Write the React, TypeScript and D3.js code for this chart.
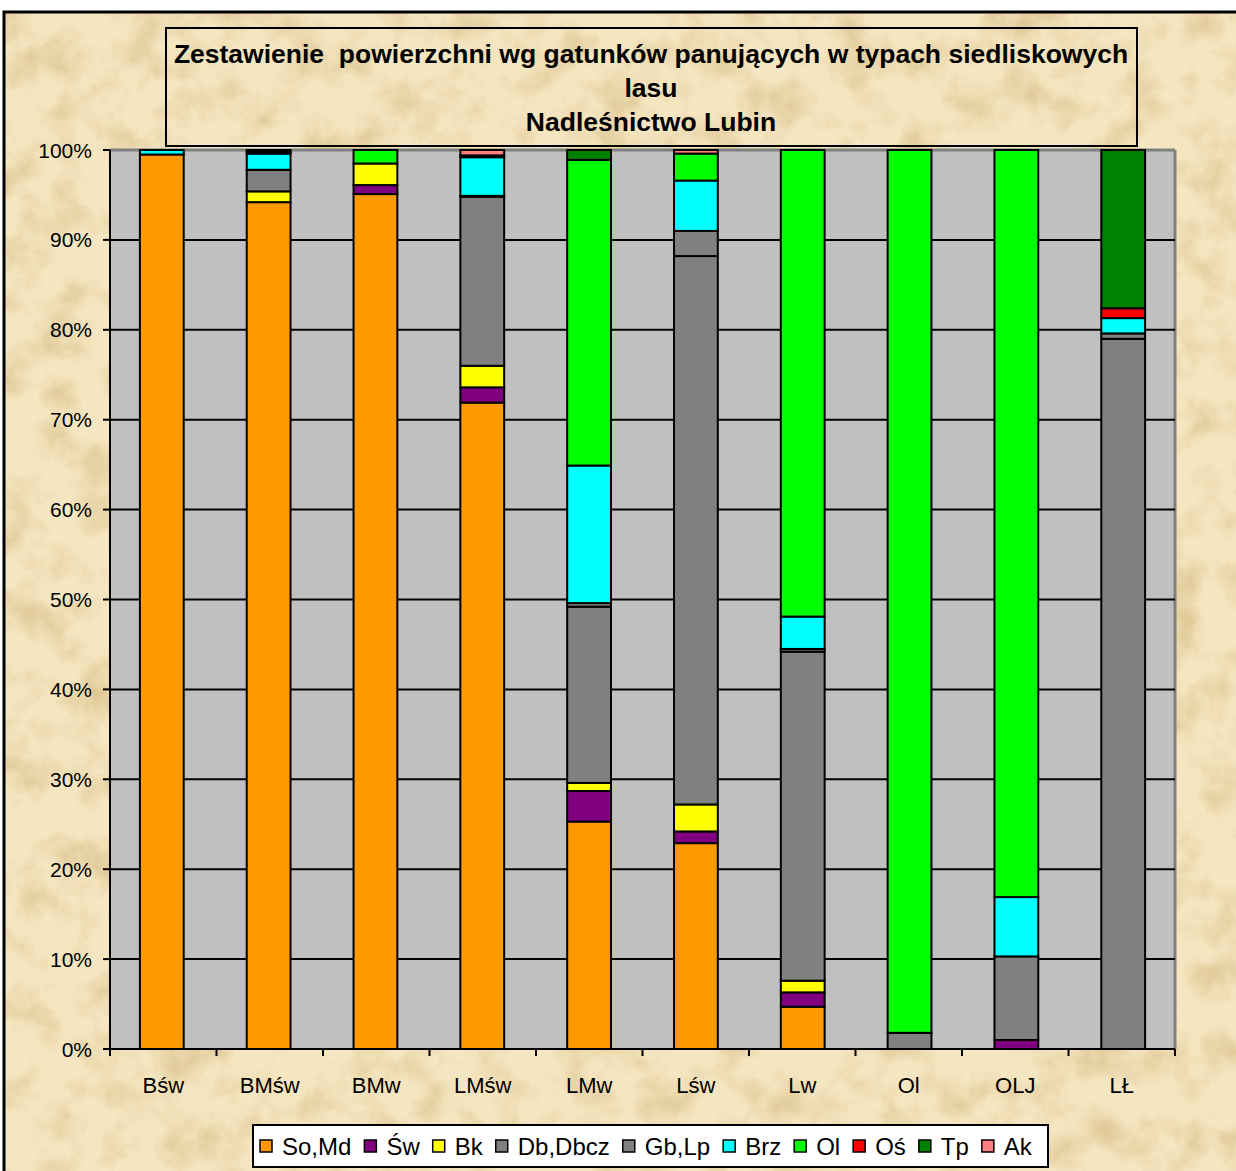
import React, { useEffect } from 'react';
import * as d3 from 'd3';

const categories = ['Bśw', 'BMśw', 'BMw', 'LMśw', 'LMw', 'Lśw', 'Lw', 'Ol', 'OLJ', 'LŁ'];
const seriesNames = ['So,Md', 'Św', 'Bk', 'Db,Dbcz', 'Gb,Lp', 'Brz', 'Ol', 'Oś', 'Tp', 'Ak'];
const seriesColors = ['#FF9900', '#800080', '#FFFF00', '#808080', '#808080', '#00FFFF', '#00FF00', '#FF0000', '#008000', '#FF8080'];

const soMd = [99.5, 94.2, 95.1, 71.9, 25.3, 22.9, 4.7, 0, 0, 0];
const sw = [0, 0, 1.0, 1.7, 3.4, 1.3, 1.6, 0, 1.0, 0];
const bk = [0, 1.2, 2.4, 2.4, 0.9, 3.0, 1.3, 0, 0, 0];
const dbDbcz = [0, 2.4, 0, 18.8, 19.6, 61.0, 36.6, 1.8, 9.3, 79.0];
const gbLp = [0, 0, 0, 0.1, 0.4, 2.8, 0.3, 0, 0, 0.6];
const brz = [0.5, 1.8, 0, 4.3, 15.3, 5.6, 3.6, 0, 6.6, 1.7];
const olSeries = [0, 0, 1.5, 0, 34.0, 3.0, 51.9, 98.2, 83.1, 0];
const os = [0, 0.2, 0, 0.2, 0, 0, 0, 0, 0, 1.1];
const tp = [0, 0, 0, 0, 1.1, 0, 0, 0, 0, 17.6];
const ak = [0, 0.2, 0, 0.6, 0, 0.4, 0, 0, 0, 0];

const seriesValues = [soMd, sw, bk, dbDbcz, gbLp, brz, olSeries, os, tp, ak];
const yTicks = [0, 10, 20, 30, 40, 50, 60, 70, 80, 90, 100];
const titleLines = ['Zestawienie  powierzchni wg gatunków panujących w typach siedliskowych', 'lasu', 'Nadleśnictwo Lubin'];

const W = 1236;
const H = 1171;
const plot = { left: 110, right: 1175, top: 150, bottom: 1049 };
const FONT = 'Arial, "Liberation Sans", sans-serif';

export default function App() {
  const legendRef = React.useRef<SVGGElement | null>(null);

  useEffect(() => {
    document.body.style.margin = '0';
    // lay out legend items sequentially using real rendered text widths
    const g = legendRef.current;
    if (!g) return;
    let lx = 260;
    d3.select(g)
      .selectAll<SVGGElement, unknown>('g.item')
      .each(function () {
        const grp = d3.select(this);
        const t = grp.select<SVGTextElement>('text');
        const w = (t.node() as SVGTextElement).getComputedTextLength();
        grp.select('rect').attr('x', lx);
        t.attr('x', lx + 22);
        lx = lx + 22 + w + 13;
      });
  }, []);

  const table = categories.map((c, i) => {
    const row: any = { cat: c };
    seriesNames.forEach((s, j) => (row[s] = seriesValues[j][i]));
    return row;
  });
  const stacked = d3.stack().keys(seriesNames)(table);

  const x = d3.scaleBand().domain(categories).range([plot.left, plot.right]).paddingInner(0.59).paddingOuter(0.28);
  const xb = d3.scaleBand().domain(categories).range([plot.left, plot.right]);
  const y = d3.scaleLinear().domain([0, 100]).range([plot.bottom, plot.top]);

  return (
    <svg width={W} height={H} style={{ display: 'block' }} xmlns="http://www.w3.org/2000/svg">
      <defs>
        <filter id="parch" x="0" y="0" width="100%" height="100%" colorInterpolationFilters="sRGB">
          <feTurbulence type="fractalNoise" baseFrequency="0.025" numOctaves="5" seed="11" />
          <feColorMatrix type="matrix" values="0 0 0 0 0.86  0 0 0 0 0.76  0 0 0 0 0.55  1.7 0 0 0 -0.72" />
        </filter>
      </defs>
      <rect x={0} y={0} width={W} height={H} fill="#ffffff" />
      <rect x={4} y={12} width={W + 10} height={H + 10} fill="#f5e6c2" />
      <rect x={4} y={12} width={W + 10} height={H + 10} fill="#000" filter="url(#parch)" />
      <rect x={4} y={12} width={W + 10} height={H + 10} fill="none" stroke="#000" strokeWidth={3} />

      <rect x={166} y={28} width={971} height={118} fill="none" stroke="#000" strokeWidth={2} />
      {titleLines.map((t, i) => (
        <text key={i} x={651} y={54 + i * 34} textAnchor="middle" dominantBaseline="central" fontFamily={FONT} fontWeight="bold" fontSize={26.5} fill="#000" style={{ whiteSpace: 'pre' }}>
          {t}
        </text>
      ))}

      <rect x={plot.left} y={plot.top} width={plot.right - plot.left} height={plot.bottom - plot.top} fill="#C0C0C0" />
      <line x1={plot.left} x2={plot.right} y1={plot.top} y2={plot.top} stroke="#808080" strokeWidth={3} />
      <line x1={plot.right} x2={plot.right} y1={plot.top} y2={plot.bottom} stroke="#808080" strokeWidth={3} />
      {yTicks.filter((t) => t > 0 && t < 100).map((t) => (
        <line key={t} x1={plot.left} x2={plot.right} y1={y(t)} y2={y(t)} stroke="#000" strokeWidth={2} />
      ))}

      {stacked.map((layer, li) => (
        <g key={li}>
          {layer.map((d, ci) => {
            const v = d[1] - d[0];
            if (v <= 0) return null;
            return (
              <rect
                key={ci}
                x={x(categories[ci])}
                y={y(d[1])}
                width={x.bandwidth()}
                height={y(d[0]) - y(d[1])}
                fill={seriesColors[li]}
                stroke="#000"
                strokeWidth={2}
              />
            );
          })}
        </g>
      ))}

      <line x1={plot.left} x2={plot.left} y1={plot.top} y2={plot.bottom + 7} stroke="#000" strokeWidth={2} />
      <line x1={plot.left - 7} x2={plot.right} y1={plot.bottom} y2={plot.bottom} stroke="#000" strokeWidth={2} />
      {yTicks.map((t) => (
        <g key={t}>
          <line x1={plot.left - 7} x2={plot.left} y1={y(t)} y2={y(t)} stroke="#000" strokeWidth={2} />
          <text x={92} y={y(t)} textAnchor="end" dominantBaseline="central" fontFamily={FONT} fontSize={21} fill="#000">
            {t}%
          </text>
        </g>
      ))}
      {categories.map((c) => (
        <g key={c}>
          <line x1={(xb(c) as number) + xb.bandwidth()} x2={(xb(c) as number) + xb.bandwidth()} y1={plot.bottom} y2={plot.bottom + 7} stroke="#000" strokeWidth={2} />
          <text x={(xb(c) as number) + xb.bandwidth() / 2} y={1085} textAnchor="middle" dominantBaseline="central" fontFamily={FONT} fontSize={22} fill="#000">
            {c}
          </text>
        </g>
      ))}

      <rect x={253} y={1125} width={795} height={42} fill="#fff" stroke="#000" strokeWidth={2} />
      <g ref={legendRef}>
        {seriesNames.map((s, i) => (
          <g key={s} className="item">
            <rect x={260} y={1140} width={12} height={12} fill={seriesColors[i]} stroke="#000" strokeWidth={1.5} />
            <text x={282} y={1146} dominantBaseline="central" fontFamily={FONT} fontSize={24} fill="#000">
              {s}
            </text>
          </g>
        ))}
      </g>
    </svg>
  );
}
